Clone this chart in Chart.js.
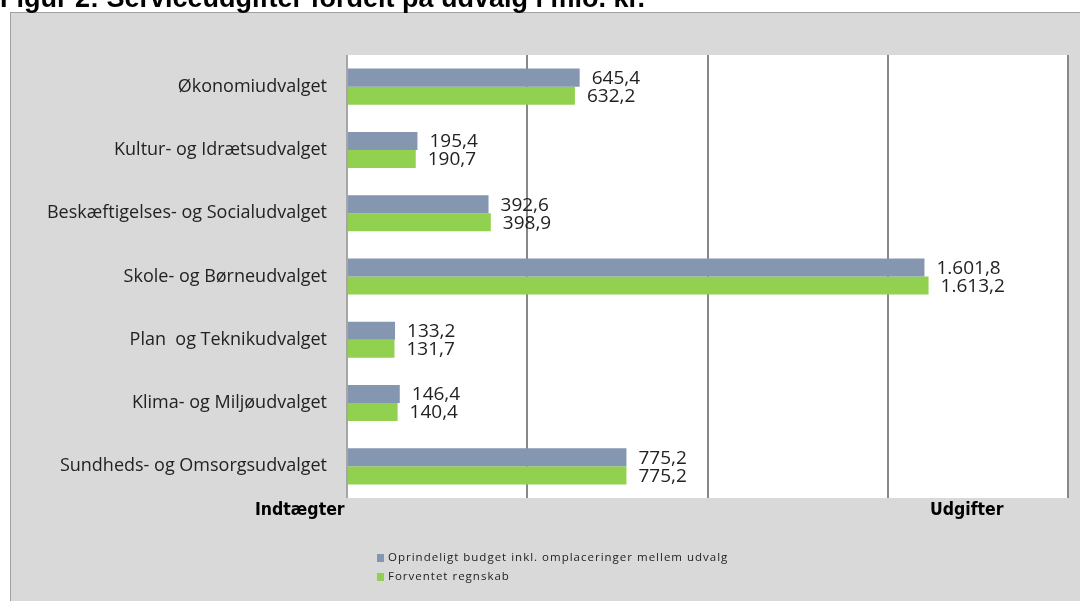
<!DOCTYPE html>
<html>
<head>
<meta charset="utf-8">
<script src="https://cdn.jsdelivr.net/npm/chart.js@4.4.0/dist/chart.umd.min.js"></script>
<style>
    html, body { margin: 0; padding: 0; background: #fff; }
    #wrap { position: relative; width: 1080px; height: 601px; overflow: hidden; }
    #title { position: absolute; left: 0; top: -17px; line-height: 1; font: bold 27px "Liberation Sans", Arial, sans-serif; color: #000; white-space: nowrap; }
    canvas { position: absolute; left: 0; top: 0; }
    .axlab { position: absolute; top: 499px; font: bold 17.5px "Liberation Sans Narrow", "DejaVu Sans Condensed", sans-serif; color: #000; }
    .leg { position: absolute; left: 377px; font: 11.5px "Open Sans", sans-serif; color: #222; letter-spacing: 1px; }
    .leg i { display: inline-block; width: 7px; height: 8px; margin-right: 4px; vertical-align: -1px; }
</style>
</head>
<body>
<div id="wrap">
    <canvas id="chart" width="1080" height="601"></canvas>
    <div id="title">Figur 2: Serviceudgifter fordelt på udvalg i mio. kr.</div>
    <div class="axlab" style="left:255px">Indtægter</div>
    <div class="axlab" style="left:930px">Udgifter</div>
    <div class="leg" style="top:549px"><i style="background:#8496B0"></i>Oprindeligt budget inkl. omplaceringer mellem udvalg</div>
    <div class="leg" style="top:568px"><i style="background:#92D050"></i>Forventet regnskab</div>
</div>
<script>
const categories = [
    'Økonomiudvalget',
    'Kultur- og Idrætsudvalget',
    'Beskæftigelses- og Socialudvalget',
    'Skole- og Børneudvalget',
    'Plan  og Teknikudvalget',
    'Klima- og Miljøudvalget',
    'Sundheds- og Omsorgsudvalget'
];
const budget = [645.4, 195.4, 392.6, 1601.8, 133.2, 146.4, 775.2];
const regnskab = [632.2, 190.7, 398.9, 1613.2, 131.7, 140.4, 775.2];
const seriesNames = ['Oprindeligt budget inkl. omplaceringer mellem udvalg', 'Forventet regnskab'];
const xTicks = [0, 500, 1000, 1500, 2000];

function fmt(v) {
    const parts = v.toFixed(1).split('.');
    const int = parts[0].replace(/\B(?=(\d{3})+(?!\d))/g, '.');
    return int + ',' + parts[1];
}

// gray frame + white plot area
const frame = {
    id: 'frame',
    beforeDraw(chart) {
        const ctx = chart.ctx, a = chart.chartArea;
        ctx.save();
        ctx.fillStyle = '#d9d9d9';
        ctx.fillRect(10, 12, 1070, 589);
        ctx.strokeStyle = '#a0a0a0';
        ctx.lineWidth = 1;
        ctx.strokeRect(10.5, 12.5, 1080, 600);
        ctx.fillStyle = '#fff';
        ctx.fillRect(a.left, a.top, a.right - a.left, a.bottom - a.top);
        ctx.restore();
    }
};

const valueLabels = {
    id: 'valueLabels',
    afterDatasetsDraw(chart) {
        const ctx = chart.ctx;
        ctx.save();
        ctx.font = '19px "Open Sans", sans-serif';
        ctx.fillStyle = '#222';
        ctx.textBaseline = 'middle';
        chart.data.datasets.forEach(function (ds, i) {
            chart.getDatasetMeta(i).data.forEach(function (bar, j) {
                ctx.fillText(fmt(ds.data[j]), bar.x + 12, bar.y + 1);
            });
        });
        ctx.restore();
    }
};

new Chart(document.getElementById('chart'), {
    type: 'bar',
    data: {
        labels: categories,
        datasets: [
            { label: seriesNames[0], data: budget, backgroundColor: '#8496B0' },
            { label: seriesNames[1], data: regnskab, backgroundColor: '#92D050' }
        ]
    },
    options: {
        indexAxis: 'y',
        responsive: false,
        animation: false,
        layout: { padding: { left: 10, right: 12, top: 55, bottom: 103 } },
        datasets: { bar: { barPercentage: 1, categoryPercentage: 0.57 } },
        plugins: { legend: { display: false }, tooltip: { enabled: false } },
        scales: {
            x: {
                min: xTicks[0],
                max: xTicks[xTicks.length - 1],
                afterBuildTicks: function (axis) { axis.ticks = xTicks.map(function (v) { return { value: v }; }); },
                ticks: { display: false },
                border: { display: false },
                grid: {
                    color: function (c) { return c.index === 0 ? '#a6a6a6' : '#888888'; },
                    lineWidth: 2,
                    drawTicks: false
                }
            },
            y: {
                afterFit: function (axis) { axis.width = 337; },
                grid: { display: false, drawTicks: false },
                border: { display: false },
                ticks: {
                    color: '#222',
                    padding: 20,
                    font: { family: '"Open Sans", sans-serif', size: 18 }
                }
            }
        }
    },
    plugins: [frame, valueLabels]
});
</script>
</body>
</html>
